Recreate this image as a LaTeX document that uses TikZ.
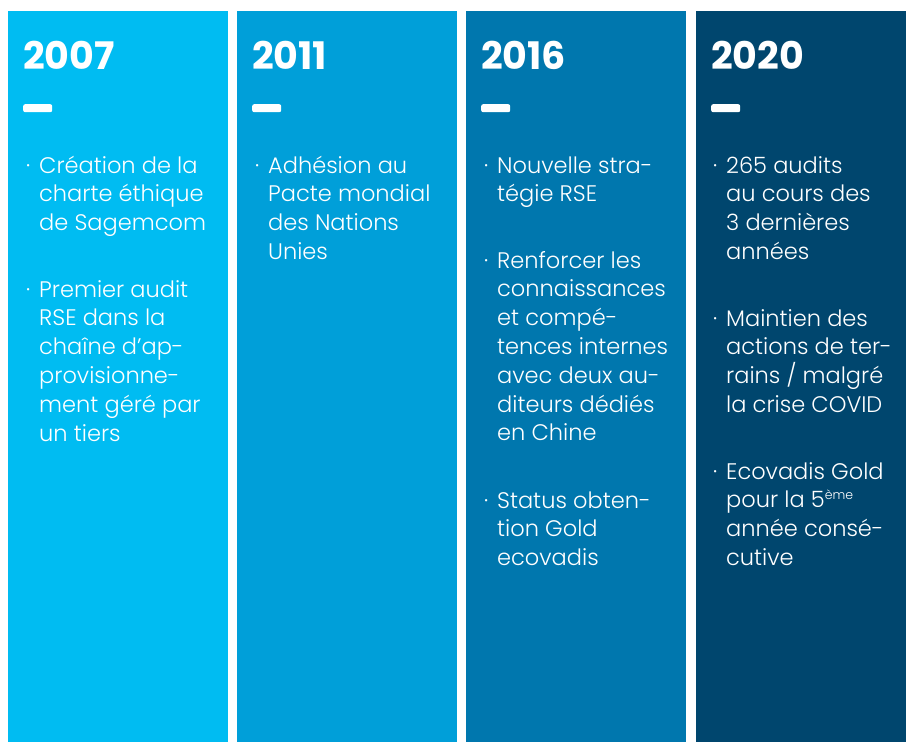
\documentclass[tikz,border=0pt]{standalone}
\usepackage{fontspec}
\setmainfont{Poppins}[UprightFont={* Light},BoldFont={* Bold}]
\usetikzlibrary{positioning}

\definecolor{bleu07}{RGB}{0,188,242}
\definecolor{bleu11}{RGB}{0,159,217}
\definecolor{bleu16}{RGB}{0,119,174}
\definecolor{bleu20}{RGB}{0,70,110}
\newcommand{\puce}{\llap{·\hspace{9pt}}}
\newcommand{\expo}[1]{\raisebox{8pt}{\fontsize{12.5}{13}\selectfont #1}}

\begin{document}
\begin{tikzpicture}[x=1pt,y=-1pt]
                \tikzstyle{col}=[inner sep=0pt, anchor=north west, minimum width=220pt, minimum height=731pt]
                \tikzstyle{annee}=[text=white, inner sep=0pt, anchor=base west, font=\bfseries\fontsize{38}{40}\selectfont]
                \tikzstyle{trait}=[fill=white, rounded corners=2pt, inner sep=0pt, anchor=north west, minimum width=29pt, minimum height=8pt]
                \tikzstyle{puce}=[text=white, inner sep=0pt, anchor=base west, align=left, font=\fontsize{22.5}{28.8}\selectfont]

                \useasboundingbox[fill=white] (0,0) rectangle (906,742);

                \node[col, fill=bleu07] (c1) at (8,11) {};
                \node[col, fill=bleu11] (c2) at (237,11) {};
                \node[col, fill=bleu16] (c3) at (466,11) {};
                \node[col, fill=bleu20, minimum width=210pt] (c4) at (696,11) {};

                \node[annee] (a1) at (23,69) {2007};
                \node[annee] (a2) at (252,69) {2011};
                \node[annee] (a3) at (481,69) {2016};
                \node[annee] (a4) at (711,69) {2020};

                \node[trait] (t1) at (23,104) {};
                \node[trait] (t2) at (252,104) {};
                \node[trait] (t3) at (481,104) {};
                \node[trait] (t4) at (711,104) {};

                % 2007 (base = last line)
                \node[puce] (p11) at (39,230.6) {\puce Création de la\\charte éthique\\de Sagemcom};
                \node[puce] (p12) at (39,441) {\puce Premier audit\\RSE dans la\\chaîne d’ap-\\provisionne-\\ment géré par\\un tiers};
                % 2011
                \node[puce] (p21) at (268,259.4) {\puce Adhésion au\\Pacte mondial\\des Nations\\Unies};
                % 2016
                \node[puce] (p31) at (497,201.8) {\puce Nouvelle stra-\\tégie RSE};
                \node[puce] (p32) at (497,440.8) {\puce Renforcer les\\connaissances\\et compé-\\tences internes\\avec deux au-\\diteurs dédiés\\en Chine};
                \node[puce] (p33) at (497,565.6) {\puce Status obten-\\tion Gold\\ecovadis};
                % 2020
                \node[puce] (p41) at (726,259.4) {\puce 265 audits\\au cours des\\3 dernières\\années};
                \node[puce] (p42) at (726,412.4) {\puce Maintien des\\actions de ter-\\rains / malgré\\la crise COVID};
                \node[puce] (p43) at (726,565.4) {\puce Ecovadis Gold\\pour la 5\expo{ème}\\année consé-\\cutive};
            \end{tikzpicture}
\end{document}
